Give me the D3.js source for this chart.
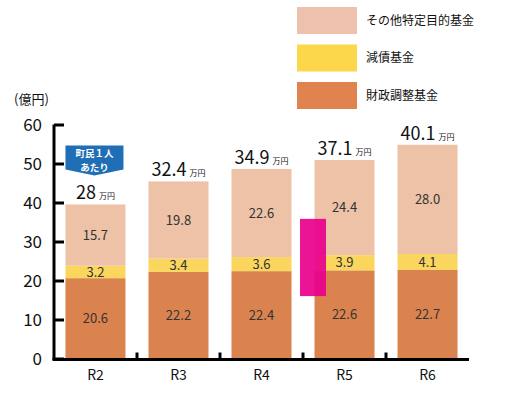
<!DOCTYPE html>
<html>
<head>
<meta charset="utf-8">
<script src="https://cdn.jsdelivr.net/npm/d3@7"></script>
<style>
  body { margin: 0; background: #fff; }
  text { font-family: "Noto Sans CJK JP", "Noto Sans", sans-serif; }
</style>
</head>
<body>
<script>
var width = 516,
    height = 396;

// data
var years = ["R2", "R3", "R4", "R5", "R6"];
var chosei = [20.6, 22.2, 22.4, 22.6, 22.7];   // 財政調整基金
var gensai = [3.2, 3.4, 3.6, 3.9, 4.1];       // 減債基金
var sonota = [15.7, 19.8, 22.6, 24.4, 28.0];  // その他特定目的基金
var perCapita = ["28", "32.4", "34.9", "37.1", "40.1"];
var yTicks = [0, 10, 20, 30, 40, 50, 60];

var seriesNames = ["財政調整基金", "減債基金", "その他特定目的基金"];
var colors = ["#DA834F", "#FBD65E", "#EDC2A6"];
var legendColors = ["#E0834F", "#FDD74B", "#EEC1AE"];

var rows = years.map(function(y, i) {
  return { year: y, a: chosei[i], b: gensai[i], c: sonota[i], pc: perCapita[i] };
});

var svg = d3.select("body").append("svg")
    .attr("width", width)
    .attr("height", height);

var x = d3.scaleBand()
    .domain(years)
    .range([54, 469])
    .paddingInner(0.277)
    .paddingOuter(0.138);

var band = d3.scaleBand().domain(years).range([54, 469]);

var y = d3.scaleLinear()
    .domain([0, 60])
    .range([358.5, 124.5]);

var stack = d3.stack().keys(["a", "b", "c"]);
var stacked = stack(rows);

// bars
var layers = svg.append("g").selectAll("g")
    .data(stacked)
    .enter().append("g")
    .attr("fill", function(d, i) { return colors[i]; });

layers.selectAll("rect")
    .data(function(d) { return d; })
    .enter().append("rect")
    .attr("x", function(d) { return x(d.data.year); })
    .attr("width", x.bandwidth())
    .attr("y", function(d) { return y(d[1]); })
    .attr("height", function(d) { return y(d[0]) - y(d[1]); });

// segment labels
layers.selectAll("text")
    .data(function(d) { return d; })
    .enter().append("text")
    .attr("x", function(d) { return x(d.data.year) + x.bandwidth() / 2; })
    .attr("y", function(d) { return (y(d[0]) + y(d[1])) / 2; })
    .attr("dy", "0.36em")
    .attr("text-anchor", "middle")
    .attr("font-size", 13)
    .attr("fill", "#333")
    .text(function(d) { return (d[1] - d[0]).toFixed(1); });

// per-capita totals
var totals = svg.append("g").selectAll("text")
    .data(rows)
    .enter().append("text")
    .attr("x", function(d) { return x(d.year) + x.bandwidth() / 2; })
    .attr("y", function(d) { return y(d.a + d.b + d.c) - 5; })
    .attr("text-anchor", "middle")
    .attr("fill", "#111");
totals.append("tspan")
    .attr("font-size", 18)
    .text(function(d) { return d.pc; });
totals.append("tspan")
    .attr("font-size", 8)
    .attr("dx", 3)
    .text("万円");

// callout 町民1人あたり
var cx = x("R2") + x.bandwidth() / 2 - 1;
var cTop = y(rows[0].a + rows[0].b + rows[0].c) - 59;
var callout = svg.append("g");
callout.append("path")
    .attr("d", "M" + (cx - 29) + "," + cTop +
      " h58 v24 l-29,6 l-29,-6 Z")
    .attr("fill", "#1F6EB6");
var ct = callout.append("text")
    .attr("text-anchor", "middle")
    .attr("font-size", 9.5).attr("font-weight", "bold")
    .attr("fill", "#fff");
ct.append("tspan").attr("x", cx).attr("y", cTop + 11.5).text("町民１人");
ct.append("tspan").attr("x", cx).attr("y", cTop + 25.5).text("あたり");

// highlight box (magenta)
svg.append("rect")
    .attr("x", band("R5") - 3)
    .attr("width", 26)
    .attr("y", y(35.8))
    .attr("height", y(16) - y(35.8))
    .attr("fill", "#E9008C")
    .attr("opacity", 0.92);

// y axis
var yAxis = d3.axisRight(y).tickValues(yTicks).tickSize(10).tickFormat("");
var gy = svg.append("g")
    .attr("transform", "translate(54,0)")
    .call(yAxis);
gy.select(".domain").attr("stroke", "#000").attr("stroke-width", 3)
    .attr("d", "M0," + y(60) + "V" + (y(0) + 1.5));
gy.selectAll(".tick line").attr("stroke", "#000").attr("stroke-width", 3);

svg.append("g").selectAll("text")
    .data(yTicks)
    .enter().append("text")
    .attr("x", 42)
    .attr("y", function(d) { return y(d); })
    .attr("dy", "0.36em")
    .attr("text-anchor", "end")
    .attr("font-size", 17)
    .attr("fill", "#111")
    .text(function(d) { return d; });

svg.append("text")
    .attr("x", 14).attr("y", 104)
    .attr("font-size", 13)
    .attr("fill", "#111")
    .text("(億円)");

// x axis
svg.append("line")
    .attr("x1", 52.5).attr("x2", 469)
    .attr("y1", y(0) + 1).attr("y2", y(0) + 1)
    .attr("stroke", "#000").attr("stroke-width", 3);
svg.append("g").selectAll("line")
    .data(years.slice(1))
    .enter().append("line")
    .attr("x1", function(d) { return band(d); })
    .attr("x2", function(d) { return band(d); })
    .attr("y1", y(0) - 6).attr("y2", y(0))
    .attr("stroke", "#000").attr("stroke-width", 3);

svg.append("g").selectAll("text")
    .data(years)
    .enter().append("text")
    .attr("x", function(d) { return x(d) + x.bandwidth() / 2; })
    .attr("y", 380)
    .attr("text-anchor", "middle")
    .attr("font-size", 14)
    .attr("fill", "#111")
    .text(function(d) { return d; });

// legend
var legendOrder = [2, 1, 0];
var lg = svg.append("g").selectAll("g")
    .data(legendOrder)
    .enter().append("g")
    .attr("transform", function(d, i) { return "translate(297," + (7 + i * 37.5) + ")"; });
lg.append("rect")
    .attr("width", 60).attr("height", 27)
    .attr("fill", function(d) { return legendColors[d]; });
lg.append("text")
    .attr("x", 69).attr("y", 13.5)
    .attr("dy", "0.36em")
    .attr("font-size", 12)
    .attr("fill", "#111")
    .text(function(d) { return seriesNames[d]; });
</script>
</body>
</html>
